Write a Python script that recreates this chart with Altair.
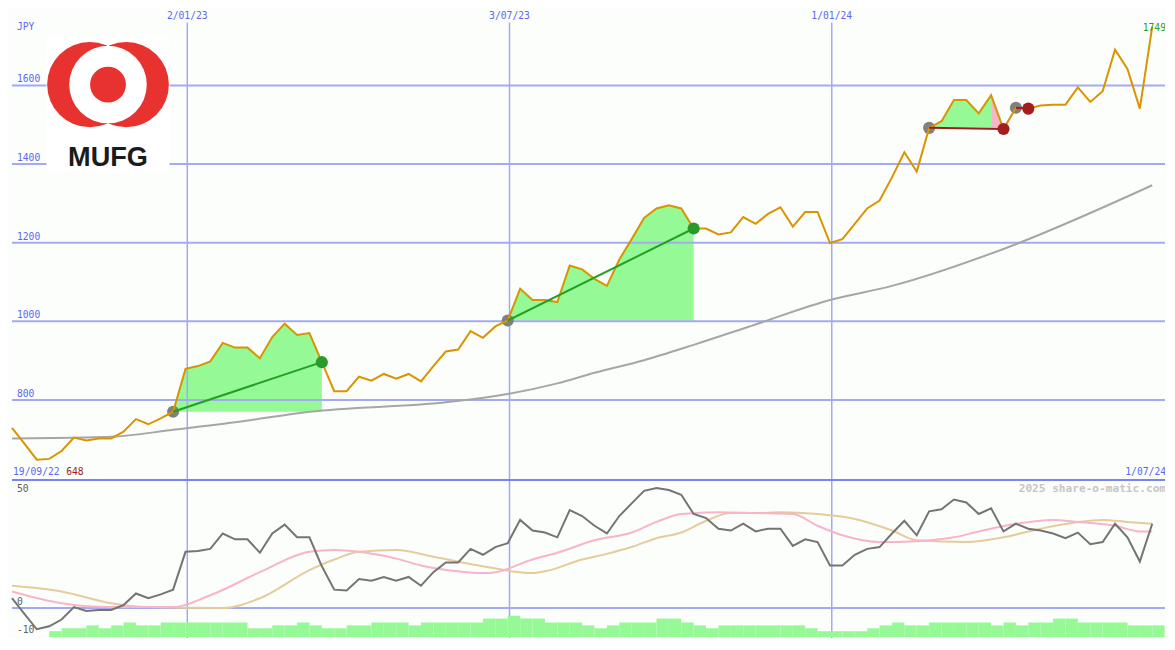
import altair as alt
import pandas as pd

# ---------------- data ----------------
start_date = "2022-09-25"   # first weekly point (left edge)

price = [729, 689, 648, 650, 670, 704, 697, 702, 702, 719,
         751, 738, 753, 770, 879, 886, 898, 945, 933, 933,
         906, 960, 994, 965, 970, 896, 822, 822, 859, 849,
         866, 854, 866, 847, 886, 923, 928, 975, 958, 987,
         1002, 1083, 1054, 1054, 1049, 1142, 1132, 1108, 1090, 1157,
         1209, 1263, 1287, 1295, 1287, 1236, 1236, 1221, 1226, 1265,
         1248, 1273, 1290, 1241, 1278, 1278, 1199, 1209, 1248, 1287,
         1307, 1366, 1430, 1381, 1492, 1509, 1563, 1563, 1529, 1575,
         1489, 1543, 1541, 1549, 1551, 1551, 1595, 1558, 1585, 1691,
         1642, 1541, 1749]

momentum = [4.3, -2.6, -9.4, -8.1, -5.1, 0.4, -1.3, -0.9, -0.9, 1.3,
            6.4, 4.3, 6.0, 8.1, 24.8, 25.2, 26.1, 32.9, 30.3, 30.3,
            24.4, 32.9, 36.8, 31.2, 31.2, 18.4, 8.1, 7.7, 12.8, 12.0,
            13.7, 12.0, 13.7, 9.8, 15.8, 20.1, 20.1, 26.1, 23.5, 26.9,
            28.6, 38.9, 34.2, 33.3, 31.2, 43.2, 40.6, 36.3, 32.9, 40.6,
            46.2, 51.7, 53.0, 52.1, 50.0, 41.5, 39.7, 35.0, 34.2, 37.2,
            33.8, 35.0, 35.0, 27.4, 30.3, 29.1, 18.8, 18.8, 23.5, 26.1,
            26.9, 32.9, 38.5, 32.1, 42.7, 43.6, 47.9, 46.6, 41.5, 44.0,
            33.8, 37.2, 35.0, 34.2, 32.9, 30.8, 33.3, 28.2, 29.1, 37.2,
            31.2, 20.5, 37.2]

volume = [0, 0, 0, 6, 9, 9, 12, 9, 12, 15,
          12, 12, 15, 15, 15, 15, 15, 15, 15, 9,
          9, 12, 12, 15, 12, 9, 9, 12, 12, 15,
          15, 15, 12, 15, 15, 15, 15, 15, 19, 19,
          22, 19, 19, 15, 15, 15, 12, 9, 12, 15,
          15, 15, 19, 19, 15, 12, 9, 12, 12, 12,
          12, 12, 12, 12, 9, 6, 6, 6, 6, 9,
          12, 15, 12, 12, 15, 15, 15, 15, 15, 12,
          15, 12, 15, 15, 19, 19, 15, 15, 15, 15,
          12, 12, 12]

ma_week = [0, 5, 8, 13, 18, 24, 35, 40, 44, 47, 51, 55, 60, 66, 71, 80, 92]
ma_val = [702, 704, 706, 724, 743, 770, 794, 815, 842, 869, 901, 940, 992, 1054, 1090, 1184, 1346]

pink_week = [0, 4, 8, 13, 16, 20, 24, 26, 28, 31, 33, 36, 38, 39, 42, 44, 47, 50, 52, 54,
             57, 60, 63, 65, 67, 70, 73, 76, 78, 81, 84, 86, 89, 91, 92]
pink_val = [7.3, 2.1, 0.4, 0.4, 5.6, 15.8, 24.8, 25.6, 24.8, 21.8, 18.8, 16.2, 15.4, 15.8, 21.4,
            24.4, 29.9, 33.3, 38.0, 41.5, 42.3, 41.9, 41.5, 36.3, 32.1, 29.1, 29.5, 31.2, 33.8,
            37.2, 38.9, 38.0, 36.3, 33.8, 33.8]

tan_week = [0, 4, 8, 11, 17, 20, 24, 26, 28, 31, 34, 38, 42, 43, 46, 48, 50, 52, 54, 56,
            58, 60, 62, 65, 68, 71, 73, 77, 80, 83, 86, 88, 90, 92]
tan_val = [9.8, 7.3, 2.1, 0.4, 0.0, 4.3, 16.7, 21.4, 24.8, 25.6, 22.6, 18.4, 15.4, 16.2, 21.4,
           23.9, 26.9, 30.8, 33.3, 38.5, 41.9, 41.9, 42.3, 41.5, 39.3, 34.2, 29.9, 29.1, 31.2,
           35.0, 38.0, 38.9, 38.0, 37.2]

# trades: (buy week, sell week, result)
trade_buy = [13, 40, 74, 81]
trade_sell = [25, 55, 80, 82]
trade_result = ["win", "win", "loss", "loss"]

grid_levels = [800, 1000, 1200, 1400, 1600]
date_grid = ["2023-01-02", "2023-07-03", "2024-01-01"]
date_grid_labels = ["2/01/23", "3/07/23", "1/01/24"]
osc_levels = [50, 0]

# ---------------- layout ----------------
W, H = 1157, 630
sx, sy = W / 1175, H / 650
s = min(sx, sy)

MONO = "DejaVu Sans Mono"
BLUE_TXT = "#5b67ee"
GRID = "#a3aaf0"
BG = "#fcfefc"
GREEN_FILL = "#95f995"
PINK = "#f8b4c8"
WIN_LINE = "#22a022"
LOSS_LINE = "#a01c1c"

dates = pd.date_range(start_date, periods=len(price), freq="7D")
dfmt = "%Y-%m-%d"
df = pd.DataFrame({
    "date": dates.strftime(dfmt),
    "date_end": (dates + pd.Timedelta(days=7)).strftime(dfmt),
    "price": price,
    "mom": momentum,
    "vol": volume,
})
ma_df = pd.DataFrame({"date": dates[ma_week].strftime(dfmt), "ma": ma_val})
pink_df = pd.DataFrame({"date": dates[pink_week].strftime(dfmt), "v": pink_val})
tan_df = pd.DataFrame({"date": dates[tan_week].strftime(dfmt), "v": tan_val})

fill_rows, line_rows, dot_rows = [], [], []
for k, (b, e, res) in enumerate(zip(trade_buy, trade_sell, trade_result)):
    base = price[b]
    segs = [(b, e, "gain")] if res == "win" else [(b, e - 1, "gain"), (e - 1, e, "loss")]
    for j, (a, z, kind) in enumerate(segs):
        if z <= a:
            continue
        for i in range(a, z + 1):
            fill_rows.append({"seg": f"{k}-{j}", "kind": kind, "date": dates[i].strftime(dfmt),
                              "price": price[i], "base": base})
    for i in (b, e):
        line_rows.append({"trade": k, "res": res, "date": dates[i].strftime(dfmt), "price": price[i]})
    dot_rows.append({"kind": "buy", "date": dates[b].strftime(dfmt), "price": price[b]})
    dot_rows.append({"kind": res, "date": dates[e].strftime(dfmt), "price": price[e]})
fill_df = pd.DataFrame(fill_rows)
tline_df = pd.DataFrame(line_rows)
dot_df = pd.DataFrame(dot_rows)

grid_df = pd.DataFrame({"level": grid_levels, "label": [str(v) for v in grid_levels]})
vgrid_df = pd.DataFrame({"date": date_grid, "label": date_grid_labels})
osc_df = pd.DataFrame({"level": osc_levels, "label": [str(v) for v in osc_levels]})
one = pd.DataFrame({"k": [0]})

# ---------------- scales ----------------
xs = alt.Scale(type="utc", nice=False,
               domain=[alt.DateTime(year=2022, month=9, date=25, utc=True),
                       alt.DateTime(year=2024, month=7, date=1, utc=True)])
price_sc = alt.Scale(domain=[196.9, 1796.9], nice=False, zero=False)
osc_sc = alt.Scale(domain=[-12.82, 264.96], nice=False, zero=False)
vol_sc = alt.Scale(domain=[0, 650], nice=False, zero=False)


def X(f="date"):
    return alt.X(f, type="temporal", scale=xs, axis=None)


def PY(f="price:Q"):
    return alt.Y(f, scale=price_sc, axis=None)


def txt(text, x, y, color, align="left", baseline="middle", size=10, weight="normal", font=MONO):
    return alt.Chart(one).mark_text(text=text, align=align, baseline=baseline, fontSize=size * s,
                                    fontWeight=weight, font=font, color=color).encode(
        x=alt.value(x * sx), y=alt.value(y * sy))


layers = []

# trade fills (gain in green, losing tail in pink)
for kind, col in [("gain", GREEN_FILL), ("loss", PINK)]:
    layers.append(alt.Chart(fill_df).transform_filter(f"datum.kind == '{kind}'").mark_area(
        opacity=1, interpolate="linear", color=col).encode(
        x=X(), y=PY(), y2="base:Q", detail="seg:N"))

# horizontal gridlines
layers.append(alt.Chart(grid_df).mark_rule(color=GRID, strokeWidth=2).encode(
    x=alt.value(0), x2=alt.value(W), y=PY("level:Q")))
# zero line of the lower panel
layers.append(alt.Chart(pd.DataFrame({"level": [0]})).mark_rule(color=GRID, strokeWidth=2).encode(
    x=alt.value(0), x2=alt.value(W), y=alt.Y("level:Q", scale=osc_sc, axis=None)))
# vertical gridlines
layers.append(alt.Chart(vgrid_df).mark_rule(color=GRID, strokeWidth=1.5).encode(
    x=X(), y=alt.value(15 * sy), y2=alt.value(H)))
# panel separator
layers.append(alt.Chart(one).mark_rule(color="#7985ec", strokeWidth=2).encode(
    x=alt.value(0), x2=alt.value(W), y=alt.value(487 * sy)))

# logo
layers.append(alt.Chart(one).mark_rect(color="#ffffff").encode(
    x=alt.value(35 * sx), x2=alt.value(160 * sx), y=alt.value(30 * sy), y2=alt.value(168 * sy)))
for cx, d, col in [(79, 88, "#e8322f"), (116, 88, "#e8322f"), (97.5, 80, "#ffffff"), (97.5, 37, "#e8322f")]:
    layers.append(alt.Chart(one).mark_circle(color=col, opacity=1, size=(d * s) ** 2).encode(
        x=alt.value(cx * sx), y=alt.value(79 * sy)))
layers.append(txt("MUFG", 97.5, 163, "#1b1b1b", align="center", baseline="alphabetic", size=28,
                  weight="bold", font="Liberation Sans"))

# volume
layers.append(alt.Chart(df).mark_rect(color=GREEN_FILL).encode(
    x=X(), x2="date_end", y=alt.Y("vol:Q", scale=vol_sc, axis=None), y2=alt.datum(0)))

# long moving average
layers.append(alt.Chart(ma_df).mark_line(color="#a6a6a6", strokeWidth=2, interpolate="monotone").encode(
    x=X(), y=PY("ma:Q")))

# oscillator lines
layers.append(alt.Chart(tan_df).mark_line(color="#e4cc9c", strokeWidth=2, interpolate="monotone").encode(
    x=X(), y=alt.Y("v:Q", scale=osc_sc, axis=None)))
layers.append(alt.Chart(pink_df).mark_line(color=PINK, strokeWidth=2, interpolate="monotone").encode(
    x=X(), y=alt.Y("v:Q", scale=osc_sc, axis=None)))
layers.append(alt.Chart(df).mark_line(color="#747474", strokeWidth=2).encode(
    x=X(), y=alt.Y("mom:Q", scale=osc_sc, axis=None)))

# buy dots (under the price line)
layers.append(alt.Chart(dot_df).transform_filter("datum.kind == 'buy'").mark_circle(
    color="#808080", opacity=1, size=(12.5 * s) ** 2).encode(x=X(), y=PY()))

# price line
layers.append(alt.Chart(df).mark_line(color="#d99400", strokeWidth=2).encode(x=X(), y=PY()))

# trade lines and sell dots
for res, lcol, dcol in [("win", WIN_LINE, "#2a9a2a"), ("loss", LOSS_LINE, "#a41c1c")]:
    layers.append(alt.Chart(tline_df).transform_filter(f"datum.res == '{res}'").mark_line(
        strokeWidth=2, color=lcol).encode(x=X(), y=PY(), detail="trade:N"))
    layers.append(alt.Chart(dot_df).transform_filter(f"datum.kind == '{res}'").mark_circle(
        opacity=1, color=dcol, size=(12.5 * s) ** 2).encode(x=X(), y=PY()))

# labels
layers.append(alt.Chart(grid_df).mark_text(align="left", baseline="bottom", dy=-1, font=MONO,
                                           fontSize=10 * s, color=BLUE_TXT).encode(
    x=alt.value(5 * sx), y=PY("level:Q"), text="label:N"))
layers.append(alt.Chart(vgrid_df).mark_text(align="center", baseline="middle", font=MONO,
                                            fontSize=10 * s, color=BLUE_TXT).encode(
    x=X(), y=alt.value(8 * sy), text="label:N"))
layers.append(alt.Chart(osc_df).mark_text(align="left", baseline="bottom", dy=-1, font=MONO,
                                          fontSize=10 * s, color="#606060").encode(
    x=alt.value(5 * sx), y=alt.Y("level:Q", scale=osc_sc, axis=None), text="label:N"))
layers.append(txt("-10", 5, 642, "#606060"))
layers.append(txt("JPY", 5, 20, BLUE_TXT))
layers.append(txt("19/09/22", 1, 479, BLUE_TXT))
layers.append(txt(str(min(price)), 55, 479, "#a01c1c"))
layers.append(txt("1/07/24", 1172, 479, BLUE_TXT, align="right"))
layers.append(txt(str(price[-1]), 1172, 21, "#2b9b2b", align="right"))
layers.append(txt("2025 share-o-matic.com", 1172, 496, "#c6c6c6", align="right", size=11.5, weight="bold"))

chart = alt.layer(*layers).resolve_scale(y="independent").properties(
    width=W, height=H, padding=0, background=BG,
    autosize=alt.AutoSizeParams(type="fit", contains="padding"),
).configure_view(stroke=None)

chart.save("out.html", embed_options={"renderer": "svg", "actions": False})
